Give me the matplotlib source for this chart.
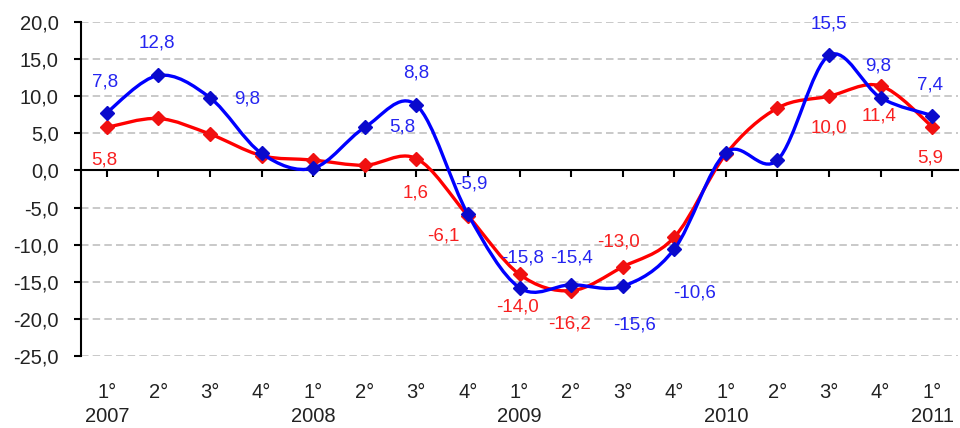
import numpy as np
import matplotlib
matplotlib.use("Agg")
import matplotlib.pyplot as plt
from matplotlib.path import Path
from matplotlib.patches import PathPatch

plt.rcParams['font.family'] = ['Liberation Sans', 'DejaVu Sans']

## data
quarters = ['1°', '2°', '3°', '4°', '1°', '2°', '3°', '4°', '1°', '2°', '3°', '4°',
            '1°', '2°', '3°', '4°', '1°']
years = ['2007', '2008', '2009', '2010', '2011']
blue_vals = [7.8, 12.8, 9.8, 2.3, 0.3, 5.8, 8.8, -5.9, -15.8, -15.4, -15.6, -10.6,
             2.4, 1.4, 15.5, 9.8, 7.4]
red_vals = [5.8, 7.0, 4.9, 2.0, 1.4, 0.7, 1.6, -6.1, -14.0, -16.2, -13.0, -9.0,
            2.2, 8.4, 10.0, 11.4, 5.9]
blue_shown = [0, 1, 2, 5, 6, 7, 8, 9, 10, 11, 14, 15, 16]
red_shown = [0, 6, 7, 8, 9, 10, 14, 15, 16]
yticks = np.arange(-25, 21, 5)

## label offsets in pixels (dx, dy up)
blue_off = {0: (-2, 31), 1: (-2, 32), 2: (37, -1), 5: (38, 0), 6: (0, 32), 7: (3, 30),
            8: (3, 30), 9: (0, 27), 10: (12, -39), 11: (20, -44), 14: (0, 31),
            15: (-2, 32), 16: (-2, 31)}
red_off = {0: (-3, -33), 6: (-1, -34), 7: (-25, -20), 8: (-2, -33), 9: (-2, -33),
           10: (-4, 25), 14: (0, -32), 15: (-2, -30), 16: (-2, -31)}

BLUE = '#0000FF'
RED = '#FF0000'


def smooth_path(x, y):
    # Bezier path through points, like spreadsheet smoothed lines
    pts = np.column_stack([x, y]).astype(float)
    n = len(pts)
    verts = [pts[0]]
    codes = [Path.MOVETO]
    for i in range(n - 1):
        p0 = pts[max(i - 1, 0)]
        p1 = pts[i]
        p2 = pts[i + 1]
        p3 = pts[min(i + 2, n - 1)]
        c1 = p1 + (p2 - p0) / 6.0
        c2 = p2 - (p3 - p1) / 6.0
        verts += [c1, c2, p2]
        codes += [Path.CURVE4] * 3
    return Path(verts, codes)


fig = plt.figure(figsize=(9.6, 4.28), dpi=100)
ax = fig.add_axes([81 / 960, (428 - 356) / 428, (958 - 81) / 960, (356 - 22) / 428])

x = np.arange(len(quarters))
ax.set_xlim(-0.5, len(quarters) - 0.5)
ax.set_ylim(-25, 20)

for v in yticks:
    if v != 0:
        ax.axhline(v, color='#C0C0C0', lw=1.2, ls=(0, (4.5, 2.5)), zorder=0)

for vals, col, mcol, z in [(red_vals, RED, '#F01010', 3), (blue_vals, BLUE, '#0A0ACC', 4)]:
    ax.add_patch(PathPatch(smooth_path(x, vals), fill=False, edgecolor=col, lw=2.4,
                           zorder=z, capstyle='round', joinstyle='round'))
    ax.plot(x, vals, ls='none', marker='D', ms=7.5, color=mcol, zorder=z + 0.5)

for vals, shown, off, col in [(blue_vals, blue_shown, blue_off, '#2525F0'),
                              (red_vals, red_shown, red_off, '#F82020')]:
    for i in shown:
        dx, dy = off[i]
        ax.annotate(f"{vals[i]:.1f}".replace('.', ','), (x[i], vals[i]),
                    xytext=(dx * 0.72, dy * 0.72), textcoords='offset points',
                    ha='center', va='center', fontsize=13.5, color=col, zorder=6)

for s in ['top', 'right']:
    ax.spines[s].set_visible(False)
ax.spines['left'].set_linewidth(1.5)
ax.spines['bottom'].set_position(('data', 0))
ax.spines['bottom'].set_linewidth(1.5)

ax.set_yticks(yticks)
ax.set_yticklabels([f"{v:.1f}".replace('.', ',') for v in yticks])
ax.tick_params(axis='y', length=5, width=1.5, pad=11, labelsize=14.5, labelcolor='#222222')

ax.set_xticks(x)
ax.set_xticklabels(quarters)
ax.tick_params(axis='x', direction='out', length=5, width=1.5, pad=148,
               labelsize=14.5, labelcolor='#222222')

for k, yr in enumerate(years):
    ax.text(x[4 * k], -0.18, yr, transform=ax.get_xaxis_transform(),
            ha='center', va='center', fontsize=14.5, color='#222222')

fig.savefig('out.png', dpi=100)
